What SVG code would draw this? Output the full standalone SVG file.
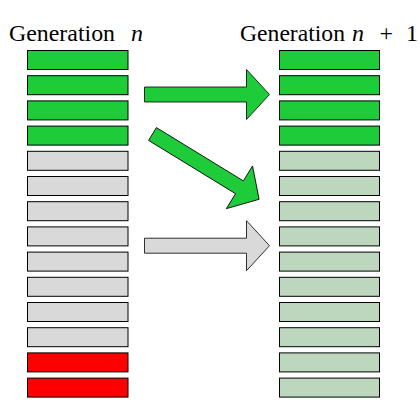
<svg xmlns="http://www.w3.org/2000/svg" width="420" height="420" viewBox="0 0 420 420">
<style>
.bar{stroke:#000;stroke-width:1}
.g{fill:#1ecc3a}
.gr{fill:#d9d9d9}
.r{fill:#ff0000}
.lg{fill:#bdd7bf}
.arr{stroke:#000;stroke-width:0.8;stroke-linejoin:miter}
.t{font-family:"Liberation Serif",serif;font-size:24px;fill:#000}
.i{font-style:italic}
</style>
<defs>
<path id="arrowShape" d="M0,-7.5 H102 V-25 L125,0 L102,25 V7.5 H0 Z"/>
</defs>
<rect width="420" height="420" fill="#fff"/>
<g id="label-left"><text class="t" x="9" y="41" textLength="106" lengthAdjust="spacingAndGlyphs">Generation</text><text class="t i" x="131" y="41">n</text></g>
<g id="label-right"><text class="t" x="240" y="41" textLength="105" lengthAdjust="spacingAndGlyphs">Generation</text><text class="t i" x="352" y="41">n</text><text class="t" x="379.5" y="41">+</text><text class="t" x="406" y="41">1</text></g>
<g id="gen-n">
<rect id="n1" class="bar g" x="27.5" y="50.5" width="100.5" height="19"/>
<rect id="n2" class="bar g" x="27.5" y="75.7" width="100.5" height="19"/>
<rect id="n3" class="bar g" x="27.5" y="100.9" width="100.5" height="19"/>
<rect id="n4" class="bar g" x="27.5" y="126.1" width="100.5" height="19"/>
<rect id="n5" class="bar gr" x="27.5" y="151.3" width="100.5" height="19"/>
<rect id="n6" class="bar gr" x="27.5" y="176.5" width="100.5" height="19"/>
<rect id="n7" class="bar gr" x="27.5" y="201.7" width="100.5" height="19"/>
<rect id="n8" class="bar gr" x="27.5" y="226.9" width="100.5" height="19"/>
<rect id="n9" class="bar gr" x="27.5" y="252.1" width="100.5" height="19"/>
<rect id="n10" class="bar gr" x="27.5" y="277.3" width="100.5" height="19"/>
<rect id="n11" class="bar gr" x="27.5" y="302.5" width="100.5" height="19"/>
<rect id="n12" class="bar gr" x="27.5" y="327.7" width="100.5" height="19"/>
<rect id="n13" class="bar r" x="27.5" y="352.9" width="100.5" height="19"/>
<rect id="n14" class="bar r" x="27.5" y="378.1" width="100.5" height="19"/>
</g>
<g id="gen-n1">
<rect id="m1" class="bar g" x="279.5" y="50.5" width="100" height="19"/>
<rect id="m2" class="bar g" x="279.5" y="75.7" width="100" height="19"/>
<rect id="m3" class="bar g" x="279.5" y="100.9" width="100" height="19"/>
<rect id="m4" class="bar g" x="279.5" y="126.1" width="100" height="19"/>
<rect id="m5" class="bar lg" x="279.5" y="151.3" width="100" height="19"/>
<rect id="m6" class="bar lg" x="279.5" y="176.5" width="100" height="19"/>
<rect id="m7" class="bar lg" x="279.5" y="201.7" width="100" height="19"/>
<rect id="m8" class="bar lg" x="279.5" y="226.9" width="100" height="19"/>
<rect id="m9" class="bar lg" x="279.5" y="252.1" width="100" height="19"/>
<rect id="m10" class="bar lg" x="279.5" y="277.3" width="100" height="19"/>
<rect id="m11" class="bar lg" x="279.5" y="302.5" width="100" height="19"/>
<rect id="m12" class="bar lg" x="279.5" y="327.7" width="100" height="19"/>
<rect id="m13" class="bar lg" x="279.5" y="352.9" width="100" height="19"/>
<rect id="m14" class="bar lg" x="279.5" y="378.1" width="100" height="19"/>
</g>
<g id="connectors">
<use href="#arrowShape" class="arr g" transform="translate(144.5,94.5)"/>
<use href="#arrowShape" class="arr g" transform="translate(152.5,134) rotate(31.5)"/>
<use href="#arrowShape" class="arr gr" transform="translate(144.5,245.7)"/>
</g>
</svg>
